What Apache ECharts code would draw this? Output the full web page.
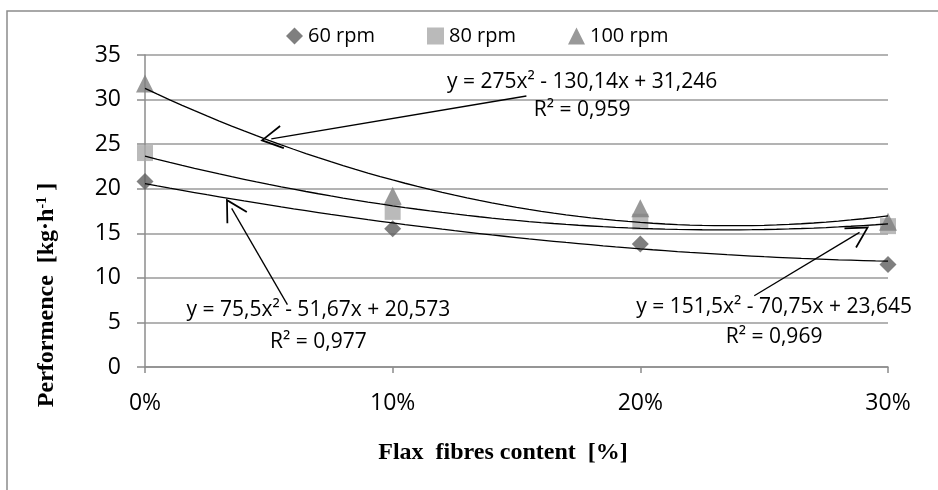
<!DOCTYPE html>
<html>
<head>
<meta charset="utf-8">
<script src="https://cdn.jsdelivr.net/npm/echarts@6/dist/echarts.min.js"></script>
<style>
  html, body { margin: 0; padding: 0; background: #fff; }
  #chart { width: 938px; height: 490px; }
</style>
</head>
<body>
<div id="chart"></div>
<script>
// x positions, flax fibres content in %
const fibreContent = [0, 10, 20, 30]
const xTicks = ['0%', '10%', '20%', '30%']
const seriesNames = ['60 rpm', '80 rpm', '100 rpm']
const perf60 = [20.8, 15.5, 13.8, 11.5]
const perf80 = [24.0, 17.4, 16.3, 15.8]
const perf100 = [31.8, 19.2, 17.8, 16.3]
// trendline coefficients as printed on the chart (x as fraction)
const trend60 = [75.5, -51.67, 20.573]
const trend80 = [151.5, -70.75, 23.645]
const trend100 = [275, -130.14, 31.246]
const eqText60 = ['y = 75,5x² - 51,67x + 20,573', 'R² = 0,977']
const eqText80 = ['y = 151,5x² - 70,75x + 23,645', 'R² = 0,969']
const eqText100 = ['y = 275x² - 130,14x + 31,246', 'R² = 0,959']

const font = "'Open Sans', 'Liberation Sans', sans-serif"
const serif = "'Liberation Serif', 'DejaVu Serif', serif"
// open V arrow head like the spreadsheet one
const openArrow = 'path://M10,0 L0,18 L1.3,18.7 L10,3.0 L18.7,18.7 L20,18 Z'

// sample the printed trendline along the x axis
function trendPoints(c) {
  const pts = []
  for (let p = 0; p <= 30; p += 0.5) {
    const x = p / 100
    pts.push([p, c[0] * x * x + c[1] * x + c[2]])
  }
  return pts
}

function arrow(from, to) {
  return [
    { coord: from, symbol: 'none' },
    { coord: to, symbol: openArrow, symbolSize: [24, 23], symbolKeepAspect: true }
  ]
}

const markerSeries = [
  { name: seriesNames[0], data: perf60, symbol: 'diamond', symbolSize: 17, color: '#5f5f5f' },
  { name: seriesNames[1], data: perf80, symbol: 'rect', symbolSize: 16, color: '#a9a9a9' },
  { name: seriesNames[2], data: perf100, symbol: 'triangle', symbolSize: 18, color: '#808080' }
].map(s => ({
  name: s.name,
  type: 'scatter',
  symbol: s.symbol,
  symbolSize: s.symbolSize,
  itemStyle: { color: s.color },
  z: 2,
  data: fibreContent.map((x, i) => [x, s.data[i]])
}))

const trendSeries = [trend60, trend80, trend100].map(c => ({
  type: 'line',
  showSymbol: false,
  symbol: 'none',
  lineStyle: { color: '#000', width: 1.3 },
  z: 3,
  silent: true,
  data: trendPoints(c)
}))

// arrows from the equation labels to their trendlines
const arrowSeries = {
  type: 'line',
  data: [],
  z: 4,
  silent: true,
  markLine: {
    silent: true,
    lineStyle: { color: '#000', width: 1.3, type: 'solid' },
    itemStyle: { color: '#000' },
    label: { show: false },
    data: [
      arrow([15.4, 30.4], [5.1, 25.6]),
      arrow([5.75, 7.0], [3.5, 17.8]),
      arrow([24.6, 8.0], [28.85, 15.1])
    ]
  }
}

const chart = echarts.init(document.getElementById('chart'))

const option = {
  backgroundColor: '#fff',
  animation: false,
  grid: { left: 145, right: 50, top: 55, bottom: 123 },
  legend: {
    data: seriesNames,
    left: 281,
    top: 21,
    itemGap: 52,
    itemWidth: 17,
    itemHeight: 17,
    textStyle: { fontFamily: font, fontSize: 20, color: '#000' }
  },
  xAxis: {
    type: 'value',
    min: 0,
    max: 30,
    interval: 10,
    axisLine: { lineStyle: { color: '#8c8c8c', width: 1.5 } },
    axisTick: { show: true, length: 6, lineStyle: { color: '#8c8c8c', width: 1.5 } },
    splitLine: { show: false },
    axisLabel: {
      margin: 25,
      fontFamily: font,
      fontSize: 23,
      color: '#000',
      formatter: v => xTicks[fibreContent.indexOf(v)]
    }
  },
  yAxis: {
    type: 'value',
    min: 0,
    max: 35,
    interval: 5,
    axisLine: { show: true, lineStyle: { color: '#8c8c8c', width: 1.5 } },
    axisTick: { show: true, length: 8, lineStyle: { color: '#8c8c8c', width: 1.5 } },
    splitLine: { show: true, lineStyle: { color: '#9a9a9a', width: 1.5 } },
    axisLabel: { margin: 24, fontFamily: font, fontSize: 23, color: '#000' }
  },
  series: [...markerSeries, ...trendSeries, arrowSeries]
}
chart.setOption(option)

// text annotations placed from data coordinates
function at(x, y) { return chart.convertToPixel({ gridIndex: 0 }, [x, y]) }
const eqStyle = { fontFamily: font, fontSize: 21, fill: '#000', align: 'center', verticalAlign: 'middle' }
function eqLabels(lines, x, y1, y2) {
  const p1 = at(x, y1), p2 = at(x, y2)
  return [
    { type: 'text', x: p1[0], y: p1[1], z: 10, style: Object.assign({ text: lines[0] }, eqStyle) },
    { type: 'text', x: p2[0], y: p2[1], z: 10, style: Object.assign({ text: lines[1] }, eqStyle) }
  ]
}

chart.setOption({
  graphic: [
    {
      type: 'rect',
      shape: { x: 7, y: 11, width: 940, height: 490 },
      style: { fill: 'none', stroke: '#8c8c8c', lineWidth: 1.5 },
      silent: true
    },
    ...eqLabels(eqText100, 17.65, 31.95, 28.8),
    ...eqLabels(eqText60, 7.0, 6.4, 2.8),
    ...eqLabels(eqText80, 25.4, 6.7, 3.4),
    {
      type: 'text',
      x: 47,
      y: 295,
      rotation: Math.PI / 2,
      style: {
        text: '{t|Performence  [kg·h}{s|-1}{t| ]}',
        align: 'center',
        verticalAlign: 'middle',
        rich: {
          t: { fontFamily: serif, fontSize: 24, fontWeight: 'bold', fill: '#000' },
          s: { fontFamily: serif, fontSize: 14, fontWeight: 'bold', fill: '#000', verticalAlign: 'top', padding: [0, 0, 10, 0] }
        }
      }
    },
    {
      type: 'text',
      x: 503,
      y: 453,
      style: {
        text: 'Flax  fibres content  [%]',
        fontFamily: serif,
        fontSize: 24,
        fontWeight: 'bold',
        fill: '#000',
        align: 'center',
        verticalAlign: 'middle'
      }
    }
  ]
})

window.addEventListener('resize', function() {
  chart.resize()
})
</script>
</body>
</html>
